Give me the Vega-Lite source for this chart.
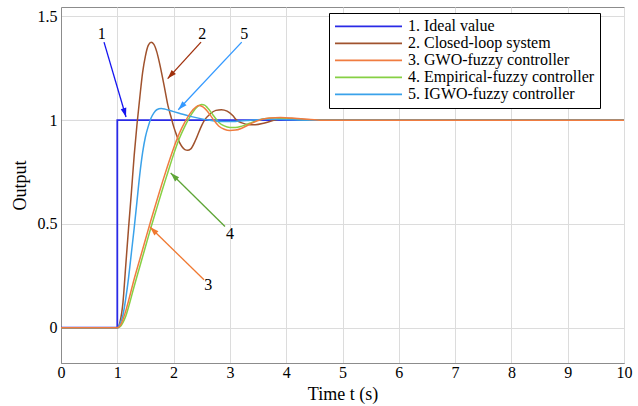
{
  "$schema": "https://vega.github.io/schema/vega-lite/v6.json",
  "width": 563,
  "height": 356,
  "autosize": {"type": "none"},
  "padding": {"left": 61, "top": 7, "right": 14, "bottom": 43},
  "background": "white",
  "config": {
    "font": "Liberation Serif",
    "view": {"stroke": "#8c8c8c", "strokeWidth": 1},
    "axis": {
      "grid": true,
      "gridColor": "#dcdcdc",
      "gridWidth": 1,
      "domainColor": "#8c8c8c",
      "domainWidth": 1,
      "ticks": false,
      "labelFlush": false,
      "labelFont": "Liberation Serif",
      "labelFontSize": 16,
      "labelColor": "black",
      "titleFont": "Liberation Serif",
      "titleFontSize": 18,
      "titleFontWeight": "normal",
      "titleColor": "black"
    }
  },
  "datasets": {
    "response": [
      {"s": "1. Ideal value", "t": 0, "y": 0},
      {"s": "1. Ideal value", "t": 1, "y": 0},
      {"s": "1. Ideal value", "t": 1, "y": 1},
      {"s": "1. Ideal value", "t": 10, "y": 1},

      {"s": "2. Closed-loop system", "t": 0, "y": 0},
      {"s": "2. Closed-loop system", "t": 1, "y": 0},
      {"s": "2. Closed-loop system", "t": 1.05, "y": 0.03},
      {"s": "2. Closed-loop system", "t": 1.1, "y": 0.12},
      {"s": "2. Closed-loop system", "t": 1.15, "y": 0.3},
      {"s": "2. Closed-loop system", "t": 1.2, "y": 0.48},
      {"s": "2. Closed-loop system", "t": 1.25, "y": 0.65},
      {"s": "2. Closed-loop system", "t": 1.3, "y": 0.83},
      {"s": "2. Closed-loop system", "t": 1.35, "y": 0.98},
      {"s": "2. Closed-loop system", "t": 1.4, "y": 1.11},
      {"s": "2. Closed-loop system", "t": 1.45, "y": 1.23},
      {"s": "2. Closed-loop system", "t": 1.5, "y": 1.31},
      {"s": "2. Closed-loop system", "t": 1.55, "y": 1.36},
      {"s": "2. Closed-loop system", "t": 1.6, "y": 1.375},
      {"s": "2. Closed-loop system", "t": 1.65, "y": 1.365},
      {"s": "2. Closed-loop system", "t": 1.7, "y": 1.33},
      {"s": "2. Closed-loop system", "t": 1.75, "y": 1.275},
      {"s": "2. Closed-loop system", "t": 1.8, "y": 1.21},
      {"s": "2. Closed-loop system", "t": 1.85, "y": 1.14},
      {"s": "2. Closed-loop system", "t": 1.9, "y": 1.07},
      {"s": "2. Closed-loop system", "t": 1.95, "y": 1.02},
      {"s": "2. Closed-loop system", "t": 2.0, "y": 0.97},
      {"s": "2. Closed-loop system", "t": 2.05, "y": 0.93},
      {"s": "2. Closed-loop system", "t": 2.1, "y": 0.895},
      {"s": "2. Closed-loop system", "t": 2.15, "y": 0.872},
      {"s": "2. Closed-loop system", "t": 2.2, "y": 0.858},
      {"s": "2. Closed-loop system", "t": 2.25, "y": 0.855},
      {"s": "2. Closed-loop system", "t": 2.3, "y": 0.86},
      {"s": "2. Closed-loop system", "t": 2.4, "y": 0.91},
      {"s": "2. Closed-loop system", "t": 2.5, "y": 0.975},
      {"s": "2. Closed-loop system", "t": 2.55, "y": 1.0},
      {"s": "2. Closed-loop system", "t": 2.65, "y": 1.03},
      {"s": "2. Closed-loop system", "t": 2.75, "y": 1.047},
      {"s": "2. Closed-loop system", "t": 2.85, "y": 1.05},
      {"s": "2. Closed-loop system", "t": 2.95, "y": 1.043},
      {"s": "2. Closed-loop system", "t": 3.05, "y": 1.022},
      {"s": "2. Closed-loop system", "t": 3.12, "y": 1.0},
      {"s": "2. Closed-loop system", "t": 3.2, "y": 0.988},
      {"s": "2. Closed-loop system", "t": 3.35, "y": 0.978},
      {"s": "2. Closed-loop system", "t": 3.45, "y": 0.978},
      {"s": "2. Closed-loop system", "t": 3.6, "y": 0.985},
      {"s": "2. Closed-loop system", "t": 3.75, "y": 0.997},
      {"s": "2. Closed-loop system", "t": 3.9, "y": 1.006},
      {"s": "2. Closed-loop system", "t": 4.05, "y": 1.008},
      {"s": "2. Closed-loop system", "t": 4.25, "y": 1.005},
      {"s": "2. Closed-loop system", "t": 4.5, "y": 1.001},
      {"s": "2. Closed-loop system", "t": 5, "y": 1.0},
      {"s": "2. Closed-loop system", "t": 10, "y": 1.0},

      {"s": "3. GWO-fuzzy controller", "t": 0, "y": 0},
      {"s": "3. GWO-fuzzy controller", "t": 1, "y": 0},
      {"s": "3. GWO-fuzzy controller", "t": 1.05, "y": 0.01},
      {"s": "3. GWO-fuzzy controller", "t": 1.1, "y": 0.04},
      {"s": "3. GWO-fuzzy controller", "t": 1.15, "y": 0.08},
      {"s": "3. GWO-fuzzy controller", "t": 1.2, "y": 0.13},
      {"s": "3. GWO-fuzzy controller", "t": 1.3, "y": 0.235},
      {"s": "3. GWO-fuzzy controller", "t": 1.4, "y": 0.33},
      {"s": "3. GWO-fuzzy controller", "t": 1.5, "y": 0.425},
      {"s": "3. GWO-fuzzy controller", "t": 1.6, "y": 0.52},
      {"s": "3. GWO-fuzzy controller", "t": 1.7, "y": 0.61},
      {"s": "3. GWO-fuzzy controller", "t": 1.8, "y": 0.7},
      {"s": "3. GWO-fuzzy controller", "t": 1.9, "y": 0.785},
      {"s": "3. GWO-fuzzy controller", "t": 2.0, "y": 0.865},
      {"s": "3. GWO-fuzzy controller", "t": 2.1, "y": 0.935},
      {"s": "3. GWO-fuzzy controller", "t": 2.2, "y": 0.99},
      {"s": "3. GWO-fuzzy controller", "t": 2.3, "y": 1.035},
      {"s": "3. GWO-fuzzy controller", "t": 2.4, "y": 1.064},
      {"s": "3. GWO-fuzzy controller", "t": 2.45, "y": 1.07},
      {"s": "3. GWO-fuzzy controller", "t": 2.5, "y": 1.067},
      {"s": "3. GWO-fuzzy controller", "t": 2.6, "y": 1.043},
      {"s": "3. GWO-fuzzy controller", "t": 2.7, "y": 1.005},
      {"s": "3. GWO-fuzzy controller", "t": 2.8, "y": 0.972},
      {"s": "3. GWO-fuzzy controller", "t": 2.9, "y": 0.956},
      {"s": "3. GWO-fuzzy controller", "t": 3.0, "y": 0.95},
      {"s": "3. GWO-fuzzy controller", "t": 3.1, "y": 0.952},
      {"s": "3. GWO-fuzzy controller", "t": 3.2, "y": 0.96},
      {"s": "3. GWO-fuzzy controller", "t": 3.35, "y": 0.98},
      {"s": "3. GWO-fuzzy controller", "t": 3.5, "y": 0.998},
      {"s": "3. GWO-fuzzy controller", "t": 3.7, "y": 1.01},
      {"s": "3. GWO-fuzzy controller", "t": 3.9, "y": 1.013},
      {"s": "3. GWO-fuzzy controller", "t": 4.1, "y": 1.01},
      {"s": "3. GWO-fuzzy controller", "t": 4.3, "y": 1.005},
      {"s": "3. GWO-fuzzy controller", "t": 4.6, "y": 1.0},
      {"s": "3. GWO-fuzzy controller", "t": 10, "y": 1.0},

      {"s": "4. Empirical-fuzzy controller", "t": 0, "y": 0},
      {"s": "4. Empirical-fuzzy controller", "t": 1, "y": 0},
      {"s": "4. Empirical-fuzzy controller", "t": 1.05, "y": 0.005},
      {"s": "4. Empirical-fuzzy controller", "t": 1.1, "y": 0.025},
      {"s": "4. Empirical-fuzzy controller", "t": 1.15, "y": 0.055},
      {"s": "4. Empirical-fuzzy controller", "t": 1.2, "y": 0.1},
      {"s": "4. Empirical-fuzzy controller", "t": 1.3, "y": 0.2},
      {"s": "4. Empirical-fuzzy controller", "t": 1.4, "y": 0.295},
      {"s": "4. Empirical-fuzzy controller", "t": 1.5, "y": 0.39},
      {"s": "4. Empirical-fuzzy controller", "t": 1.6, "y": 0.485},
      {"s": "4. Empirical-fuzzy controller", "t": 1.7, "y": 0.575},
      {"s": "4. Empirical-fuzzy controller", "t": 1.8, "y": 0.665},
      {"s": "4. Empirical-fuzzy controller", "t": 1.9, "y": 0.75},
      {"s": "4. Empirical-fuzzy controller", "t": 2.0, "y": 0.835},
      {"s": "4. Empirical-fuzzy controller", "t": 2.1, "y": 0.91},
      {"s": "4. Empirical-fuzzy controller", "t": 2.2, "y": 0.97},
      {"s": "4. Empirical-fuzzy controller", "t": 2.3, "y": 1.02},
      {"s": "4. Empirical-fuzzy controller", "t": 2.4, "y": 1.058},
      {"s": "4. Empirical-fuzzy controller", "t": 2.5, "y": 1.075},
      {"s": "4. Empirical-fuzzy controller", "t": 2.55, "y": 1.072},
      {"s": "4. Empirical-fuzzy controller", "t": 2.6, "y": 1.06},
      {"s": "4. Empirical-fuzzy controller", "t": 2.7, "y": 1.025},
      {"s": "4. Empirical-fuzzy controller", "t": 2.8, "y": 0.99},
      {"s": "4. Empirical-fuzzy controller", "t": 2.9, "y": 0.972},
      {"s": "4. Empirical-fuzzy controller", "t": 3.0, "y": 0.965},
      {"s": "4. Empirical-fuzzy controller", "t": 3.1, "y": 0.965},
      {"s": "4. Empirical-fuzzy controller", "t": 3.2, "y": 0.97},
      {"s": "4. Empirical-fuzzy controller", "t": 3.35, "y": 0.985},
      {"s": "4. Empirical-fuzzy controller", "t": 3.5, "y": 1.0},
      {"s": "4. Empirical-fuzzy controller", "t": 3.65, "y": 1.008},
      {"s": "4. Empirical-fuzzy controller", "t": 3.8, "y": 1.01},
      {"s": "4. Empirical-fuzzy controller", "t": 4.0, "y": 1.007},
      {"s": "4. Empirical-fuzzy controller", "t": 4.3, "y": 1.002},
      {"s": "4. Empirical-fuzzy controller", "t": 4.6, "y": 1.0},
      {"s": "4. Empirical-fuzzy controller", "t": 10, "y": 1.0},

      {"s": "5. IGWO-fuzzy controller", "t": 0, "y": 0},
      {"s": "5. IGWO-fuzzy controller", "t": 1, "y": 0},
      {"s": "5. IGWO-fuzzy controller", "t": 1.05, "y": 0.02},
      {"s": "5. IGWO-fuzzy controller", "t": 1.1, "y": 0.06},
      {"s": "5. IGWO-fuzzy controller", "t": 1.15, "y": 0.14},
      {"s": "5. IGWO-fuzzy controller", "t": 1.2, "y": 0.24},
      {"s": "5. IGWO-fuzzy controller", "t": 1.25, "y": 0.36},
      {"s": "5. IGWO-fuzzy controller", "t": 1.3, "y": 0.48},
      {"s": "5. IGWO-fuzzy controller", "t": 1.35, "y": 0.61},
      {"s": "5. IGWO-fuzzy controller", "t": 1.4, "y": 0.74},
      {"s": "5. IGWO-fuzzy controller", "t": 1.45, "y": 0.845},
      {"s": "5. IGWO-fuzzy controller", "t": 1.5, "y": 0.92},
      {"s": "5. IGWO-fuzzy controller", "t": 1.55, "y": 0.97},
      {"s": "5. IGWO-fuzzy controller", "t": 1.6, "y": 1.01},
      {"s": "5. IGWO-fuzzy controller", "t": 1.65, "y": 1.035},
      {"s": "5. IGWO-fuzzy controller", "t": 1.7, "y": 1.05},
      {"s": "5. IGWO-fuzzy controller", "t": 1.78, "y": 1.056},
      {"s": "5. IGWO-fuzzy controller", "t": 1.85, "y": 1.053},
      {"s": "5. IGWO-fuzzy controller", "t": 1.95, "y": 1.045},
      {"s": "5. IGWO-fuzzy controller", "t": 2.1, "y": 1.033},
      {"s": "5. IGWO-fuzzy controller", "t": 2.3, "y": 1.018},
      {"s": "5. IGWO-fuzzy controller", "t": 2.5, "y": 1.006},
      {"s": "5. IGWO-fuzzy controller", "t": 2.7, "y": 0.997},
      {"s": "5. IGWO-fuzzy controller", "t": 2.9, "y": 0.993},
      {"s": "5. IGWO-fuzzy controller", "t": 3.1, "y": 0.994},
      {"s": "5. IGWO-fuzzy controller", "t": 3.3, "y": 0.998},
      {"s": "5. IGWO-fuzzy controller", "t": 3.5, "y": 1.002},
      {"s": "5. IGWO-fuzzy controller", "t": 3.7, "y": 1.004},
      {"s": "5. IGWO-fuzzy controller", "t": 4.0, "y": 1.002},
      {"s": "5. IGWO-fuzzy controller", "t": 4.5, "y": 1.0},
      {"s": "5. IGWO-fuzzy controller", "t": 10, "y": 1.0}
    ],
    "notes": [
      {"n": "1", "tx": 0.764, "ty": 1.376, "hx": 1.155, "hy": 1.015, "lx": 0.722, "ly": 1.417},
      {"n": "2", "tx": 2.487, "ty": 1.376, "hx": 1.895, "hy": 1.2, "lx": 2.51, "ly": 1.417},
      {"n": "3", "tx": 2.54, "ty": 0.231, "hx": 1.58, "hy": 0.485, "lx": 2.616, "ly": 0.204},
      {"n": "4", "tx": 2.913, "ty": 0.488, "hx": 1.948, "hy": 0.745, "lx": 3.0, "ly": 0.453},
      {"n": "5", "tx": 3.21, "ty": 1.376, "hx": 2.083, "hy": 1.05, "lx": 3.256, "ly": 1.417}
    ]
  },
  "encoding": {
    "x": {
      "field": "t",
      "type": "quantitative",
      "scale": {"domain": [0, 10], "nice": false, "zero": false},
      "axis": {
        "title": "Time t (s)",
        "values": [0, 1, 2, 3, 4, 5, 6, 7, 8, 9, 10],
        "labelFont": "Liberation Serif",
        "labelFontSize": 16,
        "labelPadding": 1,
        "titlePadding": 5
      }
    },
    "y": {
      "field": "y",
      "type": "quantitative",
      "scale": {"domain": [-0.17, 1.545], "nice": false, "zero": false},
      "axis": {
        "title": "Output",
        "values": [0, 0.5, 1, 1.5],
        "format": "~g",
        "labelFont": "Liberation Serif",
        "labelFontSize": 16,
        "labelPadding": 4,
        "titlePadding": 8
      }
    }
  },
  "layer": [
    {
      "data": {"name": "response"},
      "transform": [{"filter": "datum.s === '1. Ideal value'"}],
      "mark": {"type": "line", "interpolate": "linear", "strokeWidth": 1.8, "clip": true},
      "encoding": {
        "order": {"value": null},
        "color": {
          "field": "s",
          "type": "nominal",
          "scale": {
            "domain": ["1. Ideal value", "2. Closed-loop system", "3. GWO-fuzzy controller", "4. Empirical-fuzzy controller", "5. IGWO-fuzzy controller"],
            "range": ["#2a2ae6", "#a0522d", "#f07c40", "#86d044", "#3aa2ea"]
          },
          "legend": {
            "title": null,
            "orient": "none",
            "legendX": 268,
            "legendY": 6,
            "strokeColor": "black",
            "fillColor": "white",
            "padding": 5,
            "symbolType": "stroke",
            "symbolSize": 4489,
            "symbolStrokeWidth": 1.6,
            "clipHeight": 16.8,
            "rowPadding": 0,
            "labelOffset": 5,
            "labelFont": "Liberation Serif",
            "labelFontSize": 16,
            "labelColor": "black",
            "labelLimit": 400
          }
        }
      }
    },
    {
      "data": {"name": "response"},
      "transform": [{"filter": "datum.s !== '1. Ideal value' && datum.s !== '3. GWO-fuzzy controller'"}],
      "mark": {"type": "line", "interpolate": "monotone", "strokeWidth": 1.5, "clip": true},
      "encoding": {"color": {"field": "s", "type": "nominal"}}
    },
    {
      "data": {"name": "response"},
      "transform": [{"filter": "datum.s === '3. GWO-fuzzy controller'"}],
      "mark": {"type": "line", "interpolate": "monotone", "strokeWidth": 1.5, "clip": true},
      "encoding": {"color": {"field": "s", "type": "nominal"}}
    },
    {
      "data": {"name": "notes"},
      "layer": [
        {
          "mark": {"type": "rule", "strokeWidth": 1.3},
          "encoding": {
            "x": {"field": "tx", "type": "quantitative"},
            "y": {"field": "ty", "type": "quantitative"},
            "x2": {"field": "hx"},
            "y2": {"field": "hy"},
            "stroke": {
              "field": "n",
              "type": "nominal",
              "scale": {"domain": ["1", "2", "3", "4", "5"], "range": ["#1414f0", "#a0300c", "#f07830", "#5ea536", "#3399ff"]},
              "legend": null
            }
          }
        },
        {
          "mark": {"type": "text", "fontSize": 16, "color": "black", "font": "Liberation Serif", "align": "center", "baseline": "middle"},
          "encoding": {
            "x": {"field": "lx", "type": "quantitative"},
            "y": {"field": "ly", "type": "quantitative"},
            "text": {"field": "n"}
          }
        },
        {
          "transform": [{"filter": "datum.n === '1'"}],
          "mark": {"type": "point", "shape": "M0,0L-0.32,1L0.32,1Z", "filled": true, "opacity": 1, "size": 324, "angle": 163.7, "strokeWidth": 0},
          "encoding": {
            "x": {"field": "hx", "type": "quantitative"},
            "y": {"field": "hy", "type": "quantitative"},
            "fill": {"field": "n", "type": "nominal", "scale": {"domain": ["1", "2", "3", "4", "5"], "range": ["#1414f0", "#a0300c", "#f07830", "#5ea536", "#3399ff"]}, "legend": null}
          }
        },
        {
          "transform": [{"filter": "datum.n === '2'"}],
          "mark": {"type": "point", "shape": "M0,0L-0.32,1L0.32,1Z", "filled": true, "opacity": 1, "size": 324, "angle": 222.3, "strokeWidth": 0},
          "encoding": {
            "x": {"field": "hx", "type": "quantitative"},
            "y": {"field": "hy", "type": "quantitative"},
            "fill": {"field": "n", "type": "nominal", "legend": null}
          }
        },
        {
          "transform": [{"filter": "datum.n === '3'"}],
          "mark": {"type": "point", "shape": "M0,0L-0.32,1L0.32,1Z", "filled": true, "opacity": 1, "size": 324, "angle": 314.3, "strokeWidth": 0},
          "encoding": {
            "x": {"field": "hx", "type": "quantitative"},
            "y": {"field": "hy", "type": "quantitative"},
            "fill": {"field": "n", "type": "nominal", "legend": null}
          }
        },
        {
          "transform": [{"filter": "datum.n === '4'"}],
          "mark": {"type": "point", "shape": "M0,0L-0.32,1L0.32,1Z", "filled": true, "opacity": 1, "size": 324, "angle": 314.5, "strokeWidth": 0},
          "encoding": {
            "x": {"field": "hx", "type": "quantitative"},
            "y": {"field": "hy", "type": "quantitative"},
            "fill": {"field": "n", "type": "nominal", "legend": null}
          }
        },
        {
          "transform": [{"filter": "datum.n === '5'"}],
          "mark": {"type": "point", "shape": "M0,0L-0.32,1L0.32,1Z", "filled": true, "opacity": 1, "size": 324, "angle": 223.2, "strokeWidth": 0},
          "encoding": {
            "x": {"field": "hx", "type": "quantitative"},
            "y": {"field": "hy", "type": "quantitative"},
            "fill": {"field": "n", "type": "nominal", "legend": null}
          }
        }
      ]
    }
  ]
}
